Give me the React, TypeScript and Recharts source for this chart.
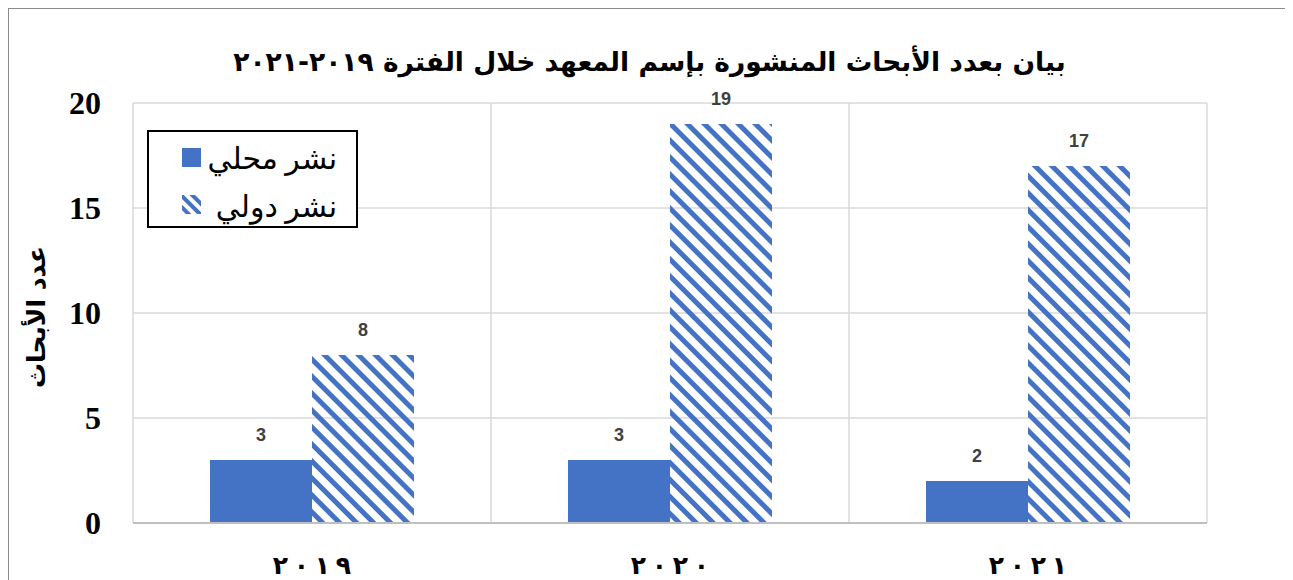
import { Bar, BarChart, CartesianGrid, LabelList, XAxis, YAxis } from "recharts";

const years = ["٢٠١٩", "٢٠٢٠", "٢٠٢١"];
const localCounts = [3, 3, 2];
const intlCounts = [8, 19, 17];
const yTicks = [0, 5, 10, 15, 20];

const BLUE = "#4472C4";

const data = years.map((year, i) => ({
  year,
  local: localCounts[i],
  intl: intlCounts[i],
}));

// Arabic digits ignore letter-spacing, so space them out one by one
const XTick = (props: any) => {
  const { x, y, payload } = props;
  const chars = Array.from(String(payload.value));
  const pitch = 21;
  return (
    <text
      y={y + 43}
      textAnchor="middle"
      fontFamily="'DejaVu Sans', sans-serif"
      fontWeight="bold"
      fontSize={25}
      fill="#000"
    >
      {chars.map((c, i) => (
        <tspan key={i} x={x + (i - (chars.length - 1) / 2) * pitch}>
          {c}
        </tspan>
      ))}
    </text>
  );
};

const YLabel = (props: any) => {
  const { viewBox } = props;
  const cy = viewBox.y + viewBox.height / 2 + 4;
  return (
    <text
      x={27}
      y={cy}
      transform={`rotate(-90, 27, ${cy})`}
      textAnchor="middle"
      dominantBaseline="central"
      direction="rtl"
      fontFamily="'DejaVu Sans', sans-serif"
      fontWeight="bold"
      fontSize={25}
      fill="#000"
    >
      عدد الأبحاث
    </text>
  );
};

export default function App() {
  return (
    <div
      style={{
        position: "relative",
        width: 1281,
        height: 600,
        border: "1px solid #8c8c8c",
        background: "#fff",
      }}
    >
      <div
        dir="rtl"
        style={{
          position: "absolute",
          top: 37,
          left: 0,
          width: 1281,
          textAlign: "center",
          fontFamily: "'DejaVu Sans', sans-serif",
          fontWeight: "bold",
          fontSize: 26.5,
          color: "#000",
        }}
      >
        بيان بعدد الأبحاث المنشورة بإسم المعهد خلال الفترة ٢٠١٩-٢٠٢١
      </div>

      <BarChart
        width={1281}
        height={600}
        data={data}
        margin={{ top: 94, right: 83, left: 0, bottom: 22 }}
        barGap={0}
        barSize={102}
      >
        <defs>
          <pattern
            id="stripes"
            patternUnits="userSpaceOnUse"
            width={12}
            height={12}
            patternTransform="rotate(-45)"
          >
            <rect x={0} y={0} width={5} height={12} fill={BLUE} />
          </pattern>
        </defs>
        <CartesianGrid
          stroke="#d9d9d9"
          strokeWidth={1.5}
          verticalCoordinatesGenerator={({ offset }: any) => [
            offset.left,
            offset.left + offset.width / 3,
            offset.left + (offset.width * 2) / 3,
            offset.left + offset.width,
          ]}
        />
        <XAxis
          dataKey="year"
          height={64}
          tickLine={false}
          axisLine={{ stroke: "#bfbfbf", strokeWidth: 2 }}
          tick={<XTick />}
        />
        <YAxis
          width={124}
          domain={[0, 20]}
          ticks={yTicks}
          tickLine={false}
          axisLine={false}
          tickSize={0}
          tickMargin={32}
          tick={{
            fontFamily: "'Liberation Serif', 'Times New Roman', serif",
            fontWeight: "bold",
            fontSize: 32,
            fill: "#000",
          }}
          label={<YLabel />}
        />
        <Bar dataKey="local" name="نشر محلي" fill={BLUE} isAnimationActive={false}>
          <LabelList
            dataKey="local"
            position="top"
            offset={19}
            fill="#404040"
            fontFamily="'Liberation Sans', Arial, sans-serif"
            fontWeight="bold"
            fontSize={18}
          />
        </Bar>
        <Bar dataKey="intl" name="نشر دولي" fill="url(#stripes)" isAnimationActive={false}>
          <LabelList
            dataKey="intl"
            position="top"
            offset={19}
            fill="#404040"
            fontFamily="'Liberation Sans', Arial, sans-serif"
            fontWeight="bold"
            fontSize={18}
          />
        </Bar>
      </BarChart>

      <div
        style={{
          position: "absolute",
          left: 138,
          top: 121,
          width: 207,
          height: 94,
          border: "2px solid #000",
          background: "#fff",
          fontFamily: "'Liberation Serif', 'DejaVu Sans', serif",
          color: "#000",
        }}
      >
        <svg width={207} height={94}>
          <defs>
            <pattern
              id="legendStripes"
              patternUnits="userSpaceOnUse"
              width={8}
              height={8}
              patternTransform="rotate(-45)"
            >
              <rect x={0} y={0} width={4} height={8} fill={BLUE} />
            </pattern>
          </defs>
          <rect x={33} y={16} width={19} height={19} fill={BLUE} />
          <rect x={33} y={63} width={19} height={19} fill="url(#legendStripes)" />
          <text x={188} y={37} textAnchor="start" direction="rtl" fontSize={30}>
            نشر محلي
          </text>
          <text x={188} y={85} textAnchor="start" direction="rtl" fontSize={30}>
            نشر دولي
          </text>
        </svg>
      </div>
    </div>
  );
}
